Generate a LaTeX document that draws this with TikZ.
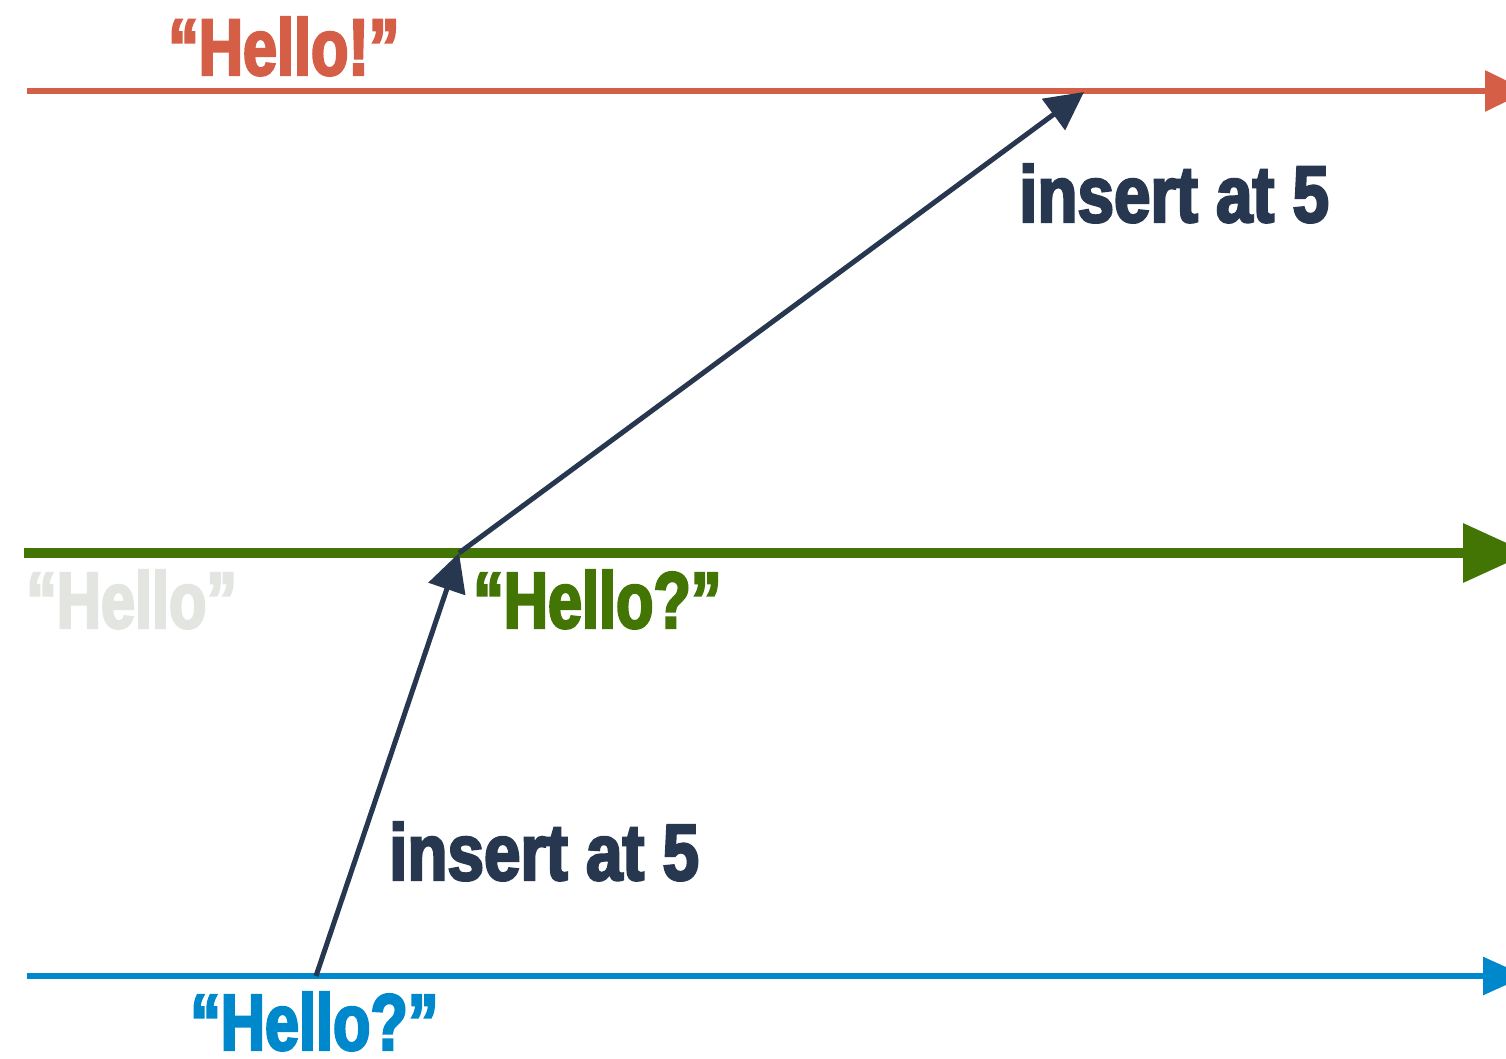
\documentclass[tikz,border=0pt]{standalone}
\usepackage{fontspec}
\usetikzlibrary{arrows.meta}
\newfontfamily\impactish[FakeStretch=0.765,FakeBold=3]{Liberation Sans Bold}
\newfontfamily\impactwide[FakeStretch=0.82,FakeBold=3]{Liberation Sans Bold}
\definecolor{cred}{HTML}{D45F46}
\definecolor{cgreen}{HTML}{437505}
\definecolor{cblue}{HTML}{0088CC}
\definecolor{cnavy}{HTML}{26374F}
\definecolor{cgray}{HTML}{E3E5E1}
\tikzset{
  lbl/.style={inner sep=0pt, anchor=base west, text depth=0pt, font=\impactish\fontsize{80}{80}\selectfont},
  ins/.style={inner sep=0pt, anchor=base west, text depth=0pt, font=\impactwide\fontsize{80}{80}\selectfont, text=cnavy},
  op/.style={draw=cnavy, line width=5pt, -{Triangle[length=38pt,width=38pt]}},
}
\begin{document}
\begin{tikzpicture}[x=1pt,y=-1pt]
\useasboundingbox (0,0) rectangle (1506,1059);
\fill[white] (0,0) rectangle (1506,1059);
\clip (0,0) rectangle (1506,1059);
% timelines
\coordinate (rs) at (27,91);
\coordinate (re) at (1528,91);
\coordinate (gs) at (24,553);
\coordinate (ge) at (1529,553);
\coordinate (bs) at (27,976);
\coordinate (be) at (1526,976);
\draw[cred, line width=6pt, -{Triangle[length=43pt,width=40pt]}] (rs) -- (re);
\draw[cgreen, line width=10pt, -{Triangle[length=66pt,width=57pt]}] (gs) -- (ge);
\draw[cblue, line width=6pt, -{Triangle[length=43pt,width=37pt]}] (bs) -- (be);
% operations
\coordinate (b0) at (316,976);
\coordinate (g0) at (459,553);
\coordinate (r0) at (1084,92);
\draw[op] (b0) -- (g0);
\draw[op] (g0) -- (r0);
% labels
\node[lbl, text=cred] (hr) at (168,75) {“Hello!”};
\node[lbl, text=cgray] (hg0) at (26,628) {“Hello”};
\node[lbl, text=cgreen] (hg) at (473,628) {“Hello?”};
\node[lbl, text=cblue] (hb) at (190,1050) {“Hello?”};
\node[ins] (i1) at (1019,222) {insert at 5};
\node[ins] (i2) at (389,880) {insert at 5};
\end{tikzpicture}
\end{document}
